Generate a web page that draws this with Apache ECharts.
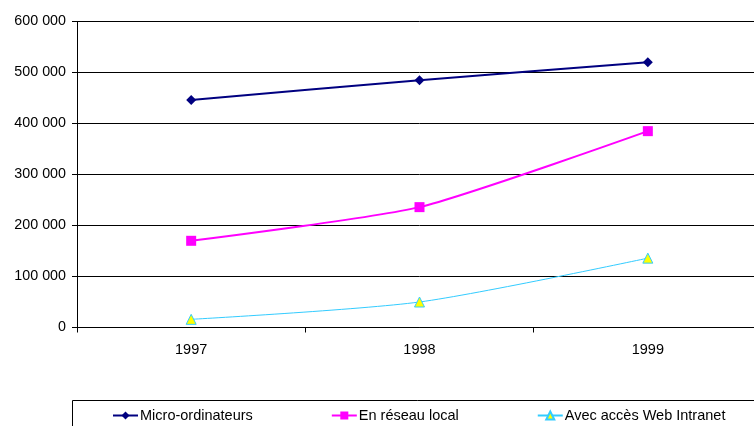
<!DOCTYPE html>
<html>
<head>
<meta charset="utf-8">
<script src="https://cdn.jsdelivr.net/npm/echarts@6/dist/echarts.min.js"></script>
<style>
  html, body { margin: 0; padding: 0; background: #fff; overflow: hidden; }
  #chart { width: 762px; height: 426px; }
</style>
</head>
<body>
<div id="chart"></div>
<script>
// Années et séries (nombre de postes)
const years = ['1997', '1998', '1999'];
const microOrdinateurs = [446000, 485000, 520000];
const reseauLocal = [170000, 236000, 385000];
const webIntranet = [16000, 50000, 136000];
const seriesNames = ['Micro-ordinateurs', 'En réseau local', 'Avec accès Web Intranet'];

const fontFamily = '"Liberation Sans", Arial, sans-serif';

function fmt(v) {
  return String(v).replace(/\B(?=(\d{3})+(?!\d))/g, ' ');
}

const chart = echarts.init(document.getElementById('chart'), null, { renderer: 'canvas' });

chart.setOption({
  animation: false,
  backgroundColor: '#fff',
  grid: { left: 77, right: 0, top: 21.5, height: 306, containLabel: false },
  graphic: [{
    type: 'rect',
    shape: { x: 72.5, y: 400.5, width: 700, height: 40 },
    style: { fill: '#fff', stroke: '#000', lineWidth: 1 },
    z: 0
  }],
  legend: {
    left: 107,
    top: 403,
    itemGap: 78,
    itemWidth: 25,
    itemHeight: 10,
    textStyle: { fontFamily, fontSize: 14.5, color: '#000', padding: [0, 0, 0, -3] },
    data: seriesNames,
    z: 5
  },
  xAxis: {
    type: 'category',
    data: years,
    boundaryGap: true,
    axisLine: { lineStyle: { color: '#000', width: 1 } },
    axisTick: { show: true, length: 5, lineStyle: { color: '#000' } },
    axisLabel: { fontFamily, fontSize: 14.5, color: '#000', margin: 15 }
  },
  yAxis: {
    type: 'value',
    min: 0,
    max: 600000,
    interval: 100000,
    axisLine: { show: true, lineStyle: { color: '#000', width: 1 } },
    axisTick: { show: true, length: 5, lineStyle: { color: '#000' } },
    axisLabel: { fontFamily, fontSize: 14.3, color: '#000', margin: 11, formatter: fmt },
    splitLine: { show: true, lineStyle: { color: '#000', width: 1 } }
  },
  series: [
    {
      name: seriesNames[0],
      type: 'line',
      data: microOrdinateurs,
      smooth: 0.2,
      symbol: 'diamond',
      symbolSize: 10,
      itemStyle: { color: '#000080' },
      lineStyle: { color: '#000080', width: 2 }
    },
    {
      name: seriesNames[1],
      type: 'line',
      data: reseauLocal,
      smooth: 0.2,
      symbol: 'rect',
      symbolSize: 10,
      itemStyle: { color: '#ff00ff' },
      lineStyle: { color: '#ff00ff', width: 2 }
    },
    {
      name: seriesNames[2],
      type: 'line',
      data: webIntranet,
      smooth: 0.25,
      symbol: 'triangle',
      symbolSize: 10,
      itemStyle: { color: '#ffff00', borderColor: '#33ccff', borderWidth: 1 },
      lineStyle: { color: '#33ccff', width: 1 }
    }
  ]
});
</script>
</body>
</html>
